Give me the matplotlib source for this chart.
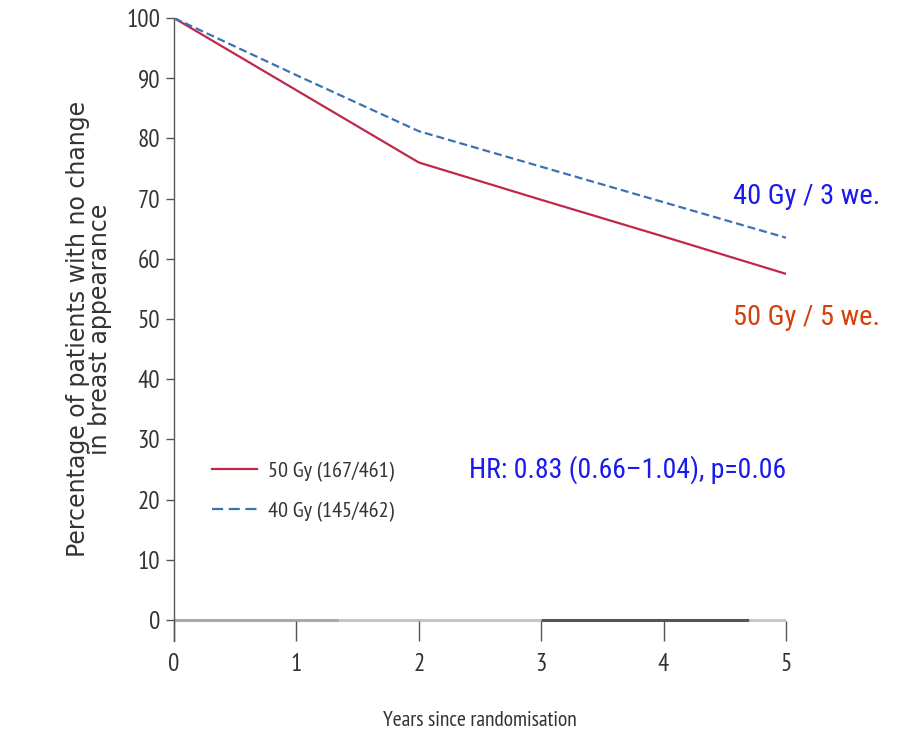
import matplotlib.pyplot as plt
from matplotlib.lines import Line2D

years = [0, 1, 2, 3, 4, 5]
gy50 = [100, 88, 76, 69.8, 63.7, 57.5]
gy40 = [100, 90.5, 81.2, 75.3, 69.4, 63.5]
zero_segments = [(0, 1.35, '#aaaaaa'), (1.35, 3, '#c4c4c4'), (3, 4.7, '#555555'), (4.7, 5, '#c8c8c8')]

narrow = ['PT Sans Narrow', 'DejaVu Sans']
cond = ['Roboto Condensed', 'DejaVu Sans']
red = '#c0284a'
blue = '#3c72b4'

fig = plt.figure(figsize=(8.99, 7.32), dpi=100)
ax = fig.add_axes([174 / 899, 1 - 640.5 / 732, (786 - 174) / 899, (640.5 - 18) / 732])

for x0, x1, c in zero_segments:
    ax.plot([x0, x1], [0, 0], color=c, lw=2.2, solid_capstyle='butt', zorder=1)

ax.plot(years, gy50, color=red, lw=1.6, zorder=3)
ax.plot(years, gy40, color=blue, lw=1.6, dashes=(3.6, 1.8), zorder=3)

ax.set_xlim(0, 5)
ax.set_ylim(-3.4, 100)
ax.set_yticks(range(0, 101, 10))
ax.set_xticks(years)

for s in ['top', 'right', 'bottom']:
    ax.spines[s].set_visible(False)
ax.spines['left'].set_color('#555555')
ax.spines['left'].set_linewidth(1.0)

ax.tick_params(axis='y', direction='out', length=6, width=1, color='#555555',
               labelsize=18, labelcolor='#333333', pad=4)
ax.tick_params(axis='x', direction='in', length=14.5, width=1, color='#555555',
               labelsize=18, labelcolor='#333333', pad=9)
for lab in ax.get_xticklabels() + ax.get_yticklabels():
    lab.set_family(narrow)

ax.set_xlabel('Years since randomisation', family=narrow, fontsize=15.5,
              color='#333333', labelpad=25)
ax.set_ylabel('Percentage of patients with no change\nin breast appearance',
              family='DejaVu Sans', fontsize=17, color='#333333', labelpad=10,
              linespacing=0.92)

ax.text(5.77, 70.4, '40 Gy / 3 we.', color='#1a1aee', fontsize=20.5, family=cond,
        ha='right', va='center', clip_on=False)
ax.text(5.77, 50.2, '50 Gy / 5 we.', color='#d4420c', fontsize=20.5, family=cond,
        ha='right', va='center', clip_on=False)
ax.text(5.0, 25.0, 'HR: 0.83 (0.66\u20131.04), p=0.06', color='#1a1aee', fontsize=20,
        family=cond, ha='right', va='center')

handles = [Line2D([], [], color=red, lw=1.6),
           Line2D([], [], color=blue, lw=1.6, dashes=(5, 2.5))]
leg = ax.legend(handles, ['50 Gy (167/461)', '40 Gy (145/462)'],
                loc='upper left', bbox_to_anchor=(0.03, 0.32), frameon=False,
                prop={'family': narrow, 'size': 16}, handlelength=2.0,
                labelspacing=0.9, handletextpad=0.5)
for t in leg.get_texts():
    t.set_color('#333333')

fig.savefig('out.png', dpi=100)
